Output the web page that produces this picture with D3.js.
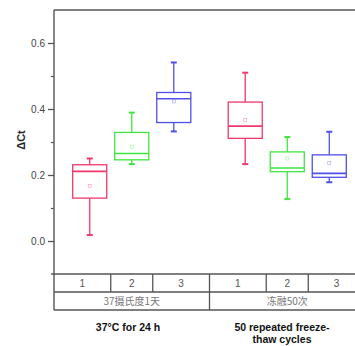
<!DOCTYPE html>
<html>
<head>
<meta charset="utf-8">
<script src="https://cdn.jsdelivr.net/npm/d3@7"></script>
<style>
  html, body { margin: 0; padding: 0; background: #fff; }
  svg { display: block; }
</style>
</head>
<body>
<svg id="chart" width="355" height="346"></svg>
<script>
// ---- data ----
const groups = ["37摄氏度1天", "冻融50次"];
const groupCaptions = [["37°C for 24 h"], ["50 repeated freeze-", "thaw cycles"]];
const subCategories = ["1", "2", "3"];
const whiskerLow  = [0.018, 0.233, 0.332, 0.233, 0.127, 0.178];
const q1          = [0.130, 0.246, 0.359, 0.311, 0.210, 0.193];
const median      = [0.211, 0.265, 0.431, 0.348, 0.221, 0.205];
const q3          = [0.231, 0.329, 0.450, 0.421, 0.270, 0.261];
const whiskerHigh = [0.250, 0.389, 0.541, 0.510, 0.315, 0.331];
const meanVal     = [0.167, 0.286, 0.423, 0.367, 0.250, 0.236];
const majorTicks  = [0.0, 0.2, 0.4, 0.6];
const minorTicks  = [0.1, 0.3, 0.5];
const yLabel = "ΔCt";
const colors = ["#f0386a", "#3fe63f", "#5050e8"];

(function draw() {
// ---- layout ----
const svg = d3.select("#chart");
const pLeft = 54, pRight = 365, pTop = 10, plotBottom = 274, row1 = 292, row2 = 310;
const frameColor = "#555";
const font = "Arial, 'Liberation Sans', sans-serif";

const y = d3.scaleLinear().domain([-0.1, 0.7]).range([plotBottom, pTop]);
const xGroup = d3.scaleBand().domain(groups).range([pLeft, pRight]).padding(0);
const xSub = d3.scaleBand().domain(subCategories).range([0, xGroup.bandwidth()])
  .paddingInner(0.19).paddingOuter(0.445);

const boxes = [];
groups.forEach((g, gi) => subCategories.forEach((s, si) => {
  const i = gi * subCategories.length + si;
  boxes.push({ g, s, si, gi, wl: whiskerLow[i], q1: q1[i], med: median[i], q3: q3[i], wh: whiskerHigh[i], mean: meanVal[i] });
}));
const cx = d => xGroup(d.g) + xSub(d.s) + xSub.bandwidth() / 2;

// ---- boxes ----
const bw = xSub.bandwidth();
const bg = svg.append("g").selectAll("g").data(boxes).join("g")
  .attr("stroke", d => colors[d.si]).attr("fill", "none").attr("stroke-width", 1.3);
bg.append("line").attr("x1", cx).attr("x2", cx).attr("y1", d => y(d.wh)).attr("y2", d => y(d.q3));
bg.append("line").attr("x1", cx).attr("x2", cx).attr("y1", d => y(d.q1)).attr("y2", d => y(d.wl));
bg.append("line").attr("x1", d => cx(d) - 3).attr("x2", d => cx(d) + 3).attr("y1", d => y(d.wh)).attr("y2", d => y(d.wh)).attr("stroke-width", 2);
bg.append("line").attr("x1", d => cx(d) - 3).attr("x2", d => cx(d) + 3).attr("y1", d => y(d.wl)).attr("y2", d => y(d.wl)).attr("stroke-width", 2);
bg.append("rect").attr("x", d => cx(d) - bw / 2).attr("width", bw)
  .attr("y", d => y(d.q3)).attr("height", d => y(d.q1) - y(d.q3)).attr("fill", "#fff");
bg.append("line").attr("x1", d => cx(d) - bw / 2).attr("x2", d => cx(d) + bw / 2)
  .attr("y1", d => y(d.med)).attr("y2", d => y(d.med)).attr("stroke-width", 1.6);
bg.append("rect").attr("x", d => cx(d) - 1.5).attr("y", d => y(d.mean) - 1.5)
  .attr("width", 3).attr("height", 3).attr("stroke-width", 0.6).attr("opacity", 0.5);

// ---- frame ----
const fr = svg.append("g").attr("stroke", frameColor).attr("stroke-width", 1.4);
fr.append("line").attr("x1", pLeft).attr("x2", pRight).attr("y1", pTop).attr("y2", pTop);
fr.append("line").attr("x1", pLeft).attr("x2", pLeft).attr("y1", pTop).attr("y2", row2);
fr.append("line").attr("x1", pLeft - 3).attr("x2", pRight).attr("y1", plotBottom).attr("y2", plotBottom);
fr.append("line").attr("x1", pLeft).attr("x2", pRight).attr("y1", row1).attr("y2", row1);
fr.append("line").attr("x1", pLeft).attr("x2", pRight).attr("y1", row2).attr("y2", row2);

// ---- y axis ----
const yAxis = d3.axisLeft(y).tickValues(majorTicks).tickFormat(d3.format(".1f")).tickSize(6).tickPadding(3);
const ya = svg.append("g").attr("transform", `translate(${pLeft},0)`).call(yAxis);
ya.select(".domain").remove();
ya.selectAll("line").attr("stroke", frameColor).attr("stroke-width", 1.3);
ya.selectAll("text").attr("fill", "#444").style("font", `10px ${font}`);
const yMinor = svg.append("g").attr("transform", `translate(${pLeft},0)`)
  .call(d3.axisLeft(y).tickValues(minorTicks).tickSize(3).tickFormat(""));
yMinor.select(".domain").remove();
yMinor.selectAll("line").attr("stroke", frameColor).attr("stroke-width", 1.2);

svg.append("text").attr("transform", "translate(25,140) rotate(-90)")
  .attr("text-anchor", "middle").attr("fill", "#222")
  .style("font", `bold 11px ${font}`).text(yLabel);

// ---- category table ----
const cellEdges = [];
groups.forEach(g => {
  const ctrs = subCategories.map(s => xGroup(g) + xSub(s) + xSub.bandwidth() / 2);
  const edges = [xGroup(g)];
  for (let k = 1; k < ctrs.length; k++) edges.push((ctrs[k - 1] + ctrs[k]) / 2);
  edges.push(xGroup(g) + xGroup.bandwidth());
  subCategories.forEach((s, k) => cellEdges.push({ g, s, x0: edges[k], x1: edges[k + 1] }));
});
const tbl = svg.append("g");
tbl.selectAll("line.sub").data(cellEdges.filter(c => c.x0 > pLeft)).join("line")
  .attr("x1", d => d.x0).attr("x2", d => d.x0).attr("y1", plotBottom).attr("y2", row1)
  .attr("stroke", frameColor).attr("stroke-width", 1.3);
tbl.selectAll("line.grp").data(groups.slice(1)).join("line")
  .attr("x1", d => xGroup(d)).attr("x2", d => xGroup(d)).attr("y1", row1).attr("y2", row2)
  .attr("stroke", frameColor).attr("stroke-width", 1.3);
tbl.selectAll("text.sub").data(cellEdges).join("text")
  .attr("x", d => (d.x0 + d.x1) / 2).attr("y", (plotBottom + row1) / 2 + 4)
  .attr("text-anchor", "middle").attr("fill", "#555")
  .style("font", `10px ${font}`).text(d => d.s);
tbl.selectAll("text.grp").data(groups).join("text")
  .attr("x", d => xGroup(d) + xGroup.bandwidth() / 2).attr("y", (row1 + row2) / 2 + 4)
  .attr("text-anchor", "middle").attr("fill", "#777")
  .style("font", `10px 'Noto Sans CJK SC', ${font}`).text(d => d);

// ---- captions ----
const capCenters = [128, 282];
groupCaptions.forEach((lines, gi) => {
  lines.forEach((ln, li) => {
    svg.append("text").attr("x", capCenters[gi]).attr("y", 331 + li * 12)
      .attr("text-anchor", "middle").attr("fill", "#111")
      .style("font", `bold 10.5px ${font}`).text(ln);
  });
});
})();
</script>
</body>
</html>
